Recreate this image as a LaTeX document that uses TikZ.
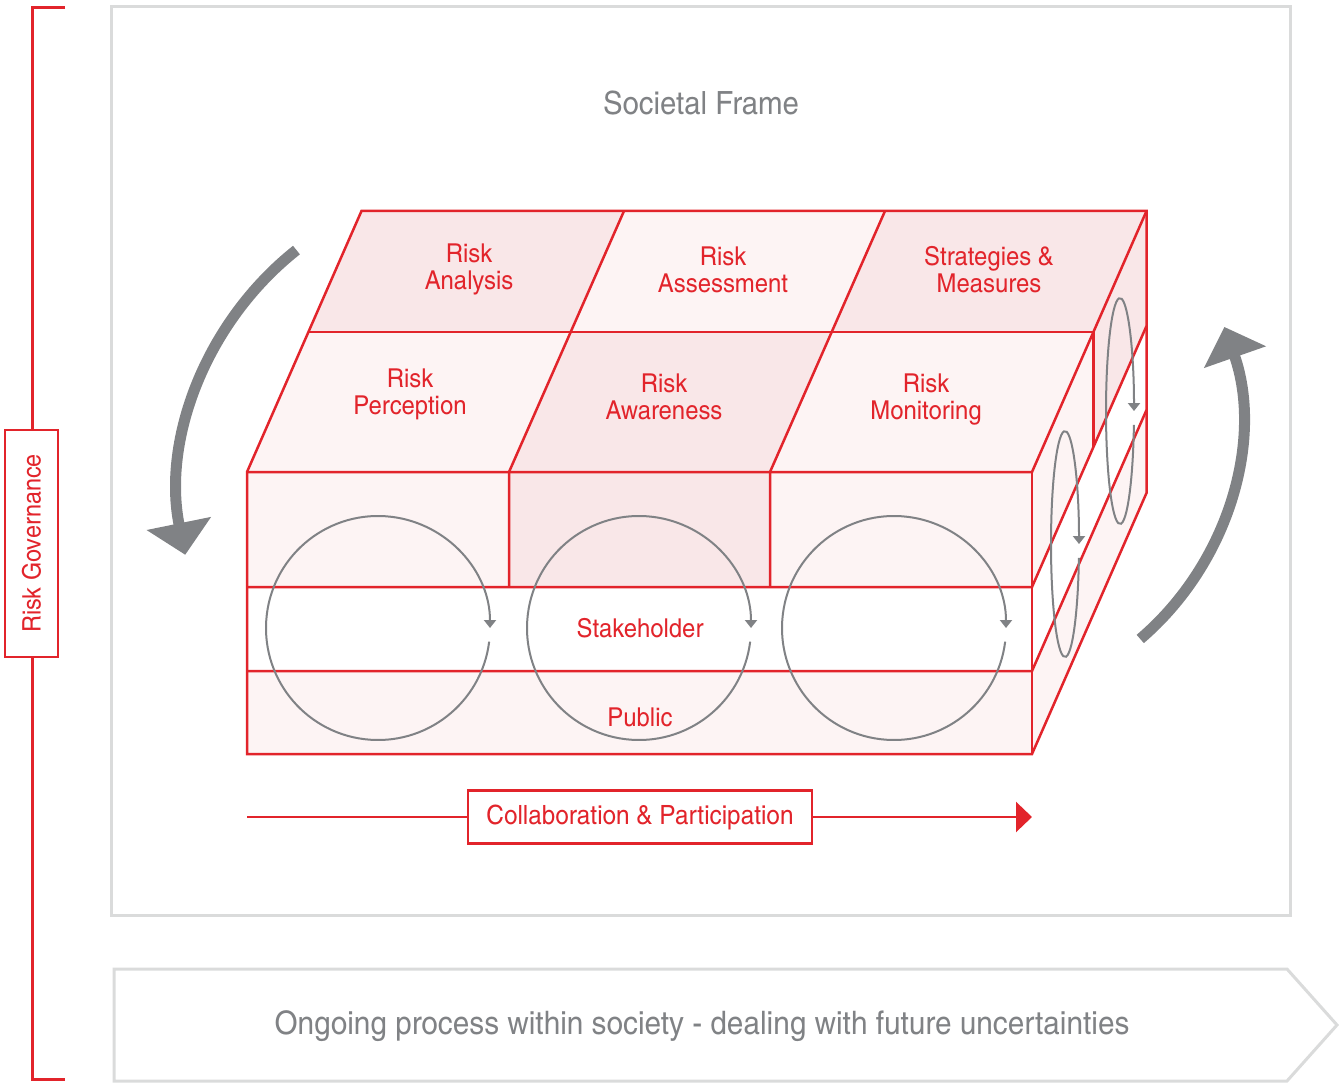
\documentclass[tikz,border=0pt]{standalone}
\usepackage{fontspec}
\setmainfont{texgyreheroscn}[Extension=.otf, UprightFont=*-regular, BoldFont=*-bold, FakeStretch=1.12]
\usetikzlibrary{arrows.meta}
\definecolor{rgred}{HTML}{E2242B}
\definecolor{rggray}{HTML}{808285}
\definecolor{framegray}{HTML}{DADBDB}
\definecolor{pinklight}{HTML}{FDF4F4}
\definecolor{pinkdark}{HTML}{F9E7E8}
\tikzset{
  redline/.style={draw=rgred, line width=2.5pt, line join=miter},
  lbl/.style={text=rgred, font=\fontsize{26}{27}\selectfont, align=center, inner sep=0pt},
  graytext/.style={text=rggray, font=\fontsize{32}{34}\selectfont, inner sep=0pt},
  cyclearrow/.style={draw=rggray, line width=2pt, -{Triangle[width=12pt,length=8pt]}},
  bigarrow/.style={draw=rggray, line width=11pt, -{Triangle[width=64pt,length=32pt]}},
  framebox/.style={draw=framegray, line width=3pt},
}
\begin{document}
\begin{tikzpicture}[x=1pt,y=-1pt]
\useasboundingbox (0,0) rectangle (1339,1083);

% outer frame and process arrow
\draw[framebox] (111,7) rectangle (1290,915);
\draw[framebox] (114,969) -- (1287,969) -- (1337,1025) -- (1287,1081) -- (114,1081) -- cycle;
\node[graytext] (society) at (701,103) {Societal Frame};
\node[graytext, font=\fontsize{32.4}{34}\selectfont] (process) at (702,1026.5) {Ongoing process within society - dealing with future uncertainties};

% governance bracket
\coordinate (bt) at (65,8);
\coordinate (btc) at (32,8);
\coordinate (bbc) at (32,1079);
\coordinate (bb) at (65,1079);
\draw[draw=rgred, line width=3pt] (bt) -- (btc) -- (bbc) -- (bb);
\node[draw=rgred, line width=2pt, fill=white, rotate=90, minimum width=227pt, minimum height=53pt,
      text=rgred, font=\fontsize{25.5}{27}\selectfont, inner sep=0pt] (gov) at (31.5,543.5) {Risk Governance};

% ---- block: fills ----
% top face, back row
\fill[pinkdark]  (309.4,332) -- (361.5,211) -- (624,211) -- (570.4,332) -- cycle;
\fill[pinklight] (570.4,332) -- (624,211) -- (885,211) -- (831.4,332) -- cycle;
\fill[pinkdark]  (831.4,332) -- (885,211) -- (1146.5,211) -- (1093.4,332) -- cycle;
% top face, front row
\fill[pinklight] (247,472) -- (309.4,332) -- (570.4,332) -- (509,472) -- cycle;
\fill[pinkdark]  (509,472) -- (570.4,332) -- (831.4,332) -- (770,472) -- cycle;
\fill[pinklight] (770,472) -- (831.4,332) -- (1093.4,332) -- (1032,472) -- cycle;
% front face
\fill[pinklight] (247,472) rectangle (509,587);
\fill[pinkdark]  (509,472) rectangle (770,587);
\fill[pinklight] (770,472) rectangle (1032,587);
\fill[white]     (247,587) rectangle (1032,671);
\fill[pinklight] (247,671) rectangle (1032,754);
% right face
\fill[pinklight] (1032,472) -- (1093.4,332) -- (1093.4,447) -- (1032,587) -- cycle;
\fill[pinkdark]  (1093.4,332) -- (1146.5,211) -- (1146.5,326) -- (1093.4,447) -- cycle;
\fill[white]     (1032,587) -- (1146.5,326) -- (1146.5,410) -- (1032,671) -- cycle;
\fill[pinklight] (1032,671) -- (1146.5,410) -- (1146.5,493) -- (1032,754) -- cycle;

% ---- block: edges ----
\draw[redline] (361.5,211) -- (1146.5,211) -- (1146.5,493) -- (1032,754) -- (247,754) -- (247,472) -- cycle;
\draw[redline] (309.4,332) -- (1093.4,332) -- (1093.4,447);
\draw[redline] (247,472) -- (1032,472) -- (1146.5,211);
\draw[redline] (509,587) -- (509,472) -- (624,211);
\draw[redline] (770,587) -- (770,472) -- (885,211);
\draw[redline] (1032,472) -- (1032,754);
\draw[redline] (247,587) -- (1032,587) -- (1146.5,326);
\draw[redline] (247,671) -- (1032,671) -- (1146.5,410);

% ---- labels ----
\node[lbl] (analysis)   at (469,269.5) {Risk\\Analysis};
\node[lbl] (assessment) at (723,269.5) {Risk\\Assessment};
\node[lbl] (strategies) at (989,269.5) {Strategies \&\\Measures};
\node[lbl] (perception) at (410,394) {Risk\\Perception};
\node[lbl] (awareness)  at (664,397) {Risk\\Awareness};
\node[lbl] (monitoring) at (926,400) {Risk\\Monitoring};
\node[lbl] (stake)      at (640,628) {Stakeholder};
\node[lbl] (public)     at (640,717) {Public};

% ---- cycle arrows ----
\coordinate (c1) at (378,628);
\coordinate (c2) at (639,628);
\coordinate (c3) at (894,628);
\coordinate (e1) at (1065,544);
\coordinate (e2) at (1120,411);
\foreach \c in {c1,c2,c3}
  \draw[cyclearrow] ([shift={(7:112)}]\c) arc[start angle=7, end angle=360, radius=112];
\draw[cyclearrow] ([shift={(13.9,13.8)}]e1) arc[start angle=7, end angle=360, x radius=14, y radius=113];
\draw[cyclearrow] ([shift={(13.9,13.8)}]e2) arc[start angle=7, end angle=360, x radius=14, y radius=113];

% ---- big rotation arrows ----
\coordinate (lc) at (489,493);
\coordinate (rc) at (954.5,421.5);
\draw[bigarrow] ([shift={(231.6:310)}]lc) arc[start angle=231.6, end angle=168.5, radius=310];
\draw[bigarrow] ([shift={(49.5:286)}]rc) arc[start angle=49.5, end angle=-19.3, radius=286];

% ---- collaboration arrow ----
\node[draw=rgred, line width=2.5pt, fill=white, minimum width=344pt, minimum height=53pt,
      text=rgred, font=\fontsize{26.5}{28}\selectfont, inner sep=0pt] (collab) at (640,817) {Collaboration \& Participation};
\coordinate (cl) at (247,817);
\coordinate (cr) at (1032,817);
\draw[redline] (cl) -- (collab.west);
\draw[redline, -{Triangle[width=30pt,length=16pt]}] (collab.east) -- (cr);
\end{tikzpicture}
\end{document}
